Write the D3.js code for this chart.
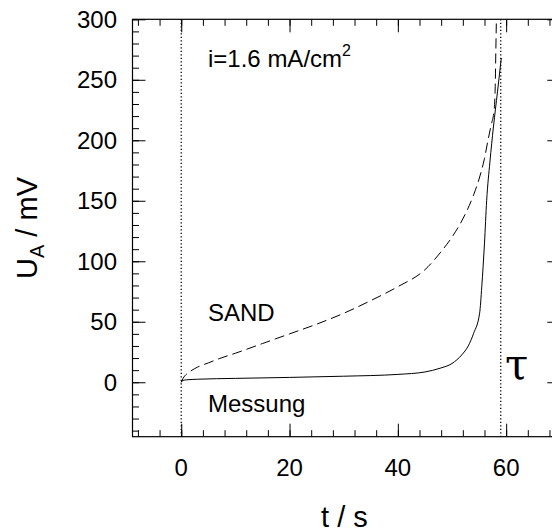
<!DOCTYPE html>
<html>
<head>
<meta charset="utf-8">
<script src="https://cdn.jsdelivr.net/npm/d3@7"></script>
<style>
  html, body { margin: 0; padding: 0; background: #fff; }
  svg { display: block; }
  text { font-family: "Liberation Sans", Arial, sans-serif; fill: #000; }
</style>
</head>
<body>
<svg id="chart" width="552" height="532"></svg>
<script>
// ---- data ----
const sandT = [0, 0.3, 0.7, 1.2, 2, 3, 5, 7, 10, 15, 20, 25, 30, 35, 40, 45, 48, 50, 52, 54, 55, 56, 56.6, 57.2, 57.8, 58.0, 58.1, 58.2];
const sandU = [0, 3, 5.5, 7.5, 10, 12.5, 16, 19.5, 24, 32, 40, 48, 57, 67.5, 79, 93, 108, 120, 135, 155, 168, 185, 199, 212, 226, 248, 275, 300];
const messT = [0, 0.3, 1, 3, 10, 20, 30, 40, 45, 47.8, 50, 51.8, 53, 54, 55.1, 55.5, 56, 56.4, 57, 57.65, 58.4, 59.1];
const messU = [0, 1.5, 2, 2.5, 3.2, 4, 5, 6.5, 8.5, 11.6, 15.5, 22.6, 30, 40.5, 57, 79, 115, 150, 182, 211, 240, 268];
const tau = 59;
const xTickLabels = [0, 20, 40, 60];
const yTickLabels = [0, 50, 100, 150, 200, 250, 300];
const xMinorTicks = d3.range(-8, 70.1, 4);
const yMinorTicks = d3.range(-40, 300.1, 10);
const xDomain = [-9, 70];
const yDomain = [-45, 300];

// ---- layout ----
const svg = d3.select("#chart");
const pL = 132.5, pR = 560.3, pT = 19.3, pB = 436.7;
const x = d3.scaleLinear().domain(xDomain).range([pL, pR]);
const y = d3.scaleLinear().domain(yDomain).range([pB, pT]);
const MAJ = 13, MIN = 6.5;

svg.append("defs").append("clipPath").attr("id", "clip")
  .append("rect").attr("x", pL).attr("y", pT).attr("width", pR - pL).attr("height", pB - pT);

function tickAxis(axisFn, scale, values, size, transform) {
  const g = svg.append("g").attr("transform", transform)
    .call(axisFn(scale).tickValues(values).tickSize(-size).tickSizeOuter(0).tickFormat(""));
  g.select(".domain").remove();
  g.selectAll("line").attr("stroke", "#000").attr("stroke-width", 1);
  return g;
}
tickAxis(d3.axisBottom, x, xMinorTicks, MIN, `translate(0,${pB})`);
tickAxis(d3.axisBottom, x, xTickLabels, MAJ, `translate(0,${pB})`);
tickAxis(d3.axisTop, x, xMinorTicks, MIN, `translate(0,${pT})`);
tickAxis(d3.axisTop, x, xTickLabels, MAJ, `translate(0,${pT})`);
tickAxis(d3.axisLeft, y, yMinorTicks, MIN, `translate(${pL},0)`);
tickAxis(d3.axisLeft, y, yTickLabels, MAJ, `translate(${pL},0)`);
tickAxis(d3.axisRight, y, yMinorTicks, MIN, `translate(${pR},0)`);
tickAxis(d3.axisRight, y, yTickLabels, MAJ, `translate(${pR},0)`);

svg.append("rect").attr("x", pL).attr("y", pT).attr("width", pR - pL).attr("height", pB - pT)
  .attr("fill", "none").attr("stroke", "#000").attr("stroke-width", 1.2);

svg.append("g").selectAll("text").data(xTickLabels).join("text")
  .attr("x", d => x(d)).attr("y", 476).attr("text-anchor", "middle")
  .attr("font-size", 24).text(d => d);
svg.append("g").selectAll("text").data(yTickLabels).join("text")
  .attr("x", 117).attr("y", d => y(d) + 8.5).attr("text-anchor", "end")
  .attr("font-size", 24).text(d => d);

svg.append("text").attr("x", (pL + pR) / 2 - 2).attr("y", 527).attr("text-anchor", "middle")
  .attr("font-size", 29).text("t / s");
const yt = svg.append("text").attr("transform", `translate(37,${(pT + pB) / 2}) rotate(-90)`)
  .attr("text-anchor", "middle").attr("font-size", 29);
yt.append("tspan").text("U");
yt.append("tspan").attr("font-size", 20).attr("dy", 7).text("A");
yt.append("tspan").attr("dy", -7).text(" / mV");

const plot = svg.append("g").attr("clip-path", "url(#clip)");
[0, tau].forEach(v => {
  plot.append("line").attr("x1", x(v)).attr("x2", x(v)).attr("y1", pT).attr("y2", pB)
    .attr("stroke", "#000").attr("stroke-width", 1.3).attr("stroke-dasharray", "1.3,2.2");
});
const line = d3.line().x(d => x(d[0])).y(d => y(d[1])).curve(d3.curveMonotoneX);
plot.append("path").datum(sandT.map((t, i) => [t, sandU[i]])).attr("d", line)
  .attr("fill", "none").attr("stroke", "#000").attr("stroke-width", 1).attr("stroke-dasharray", "10,5");
plot.append("path").datum(messT.map((t, i) => [t, messU[i]])).attr("d", line)
  .attr("fill", "none").attr("stroke", "#000").attr("stroke-width", 1);

const ann = svg.append("text").attr("x", 208).attr("y", 67).attr("font-size", 24);
ann.append("tspan").text("i=1.6 mA/cm");
ann.append("tspan").attr("font-size", 16).attr("dy", -11).text("2");
svg.append("text").attr("x", 208).attr("y", 321).attr("font-size", 24).text("SAND");
svg.append("text").attr("x", 208).attr("y", 412).attr("font-size", 24).text("Messung");
svg.append("text").attr("x", 505).attr("y", 379).attr("font-size", 42)
  .style("font-family", "'DejaVu Serif', 'Liberation Serif', serif").text("τ");
</script>
</body>
</html>
